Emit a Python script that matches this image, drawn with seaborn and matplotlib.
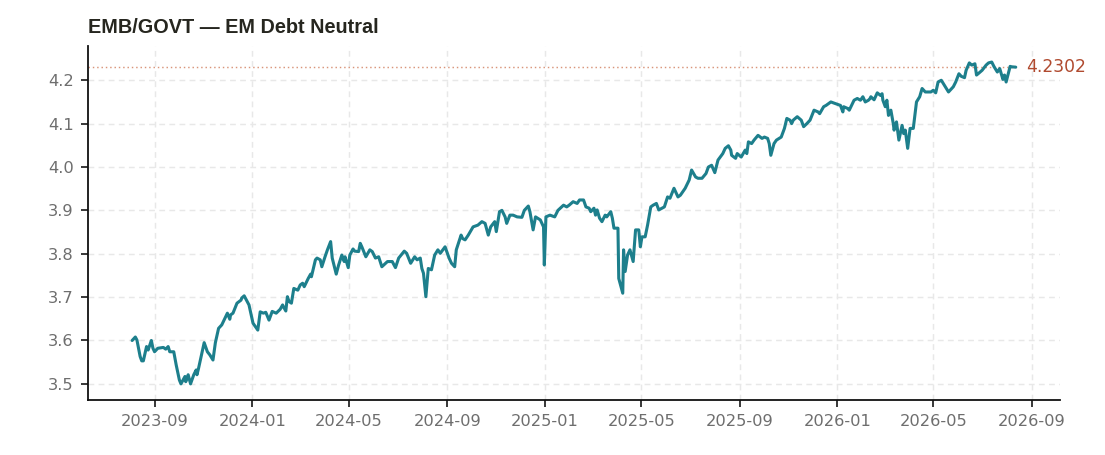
import matplotlib
matplotlib.use("Agg")
import matplotlib.pyplot as plt
import matplotlib.dates as mdates
import pandas as pd
import seaborn as sns

TITLE = "EMB/GOVT — EM Debt Neutral"

dates = [
    "2023-08-04", "2023-08-08", "2023-08-10", "2023-08-14", "2023-08-16", "2023-08-18",
    "2023-08-22", "2023-08-24", "2023-08-28", "2023-08-30", "2023-09-01", "2023-09-05",
    "2023-09-12", "2023-09-15", "2023-09-18", "2023-09-20", "2023-09-25", "2023-09-28",
    "2023-10-02", "2023-10-04", "2023-10-09", "2023-10-10", "2023-10-13", "2023-10-16",
    "2023-10-20", "2023-10-23", "2023-10-24", "2023-10-26", "2023-11-02", "2023-11-06",
    "2023-11-09", "2023-11-13", "2023-11-16", "2023-11-20", "2023-11-24", "2023-11-29",
    "2023-12-01", "2023-12-04", "2023-12-05", "2023-12-08", "2023-12-13", "2023-12-18",
    "2023-12-19", "2023-12-22", "2023-12-28", "2024-01-02", "2024-01-08", "2024-01-11",
    "2024-01-15", "2024-01-18", "2024-01-22", "2024-01-26", "2024-01-31", "2024-02-05",
    "2024-02-08", "2024-02-09", "2024-02-12", "2024-02-14", "2024-02-16", "2024-02-19",
    "2024-02-22", "2024-02-27", "2024-03-01", "2024-03-04", "2024-03-06", "2024-03-11",
    "2024-03-14", "2024-03-15", "2024-03-20", "2024-03-22", "2024-03-26", "2024-03-28",
    "2024-04-01", "2024-04-04", "2024-04-08", "2024-04-10", "2024-04-15", "2024-04-18",
    "2024-04-22", "2024-04-25", "2024-04-26", "2024-04-30", "2024-05-02", "2024-05-06",
    "2024-05-08", "2024-05-13", "2024-05-15", "2024-05-17", "2024-05-22", "2024-05-27",
    "2024-05-30", "2024-06-03", "2024-06-07", "2024-06-11", "2024-06-18", "2024-06-24",
    "2024-06-28", "2024-07-02", "2024-07-09", "2024-07-12", "2024-07-17", "2024-07-22",
    "2024-07-25", "2024-07-29", "2024-07-31", "2024-08-02", "2024-08-05", "2024-08-08",
    "2024-08-12", "2024-08-16", "2024-08-20", "2024-08-23", "2024-08-29", "2024-09-03",
    "2024-09-06", "2024-09-10", "2024-09-12", "2024-09-18", "2024-09-20", "2024-09-23",
    "2024-09-27", "2024-10-03", "2024-10-09", "2024-10-14", "2024-10-18", "2024-10-22",
    "2024-10-25", "2024-10-30", "2024-11-01", "2024-11-05", "2024-11-08", "2024-11-12",
    "2024-11-14", "2024-11-18", "2024-11-22", "2024-11-27", "2024-12-03", "2024-12-06",
    "2024-12-11", "2024-12-13", "2024-12-17", "2024-12-20", "2024-12-26", "2024-12-30",
    "2024-12-31", "2025-01-02", "2025-01-07", "2025-01-13", "2025-01-17", "2025-01-24",
    "2025-01-28", "2025-01-31", "2025-02-05", "2025-02-10", "2025-02-13", "2025-02-18",
    "2025-02-21", "2025-02-25", "2025-02-27", "2025-03-03", "2025-03-05", "2025-03-07",
    "2025-03-10", "2025-03-13", "2025-03-17", "2025-03-19", "2025-03-24", "2025-03-26",
    "2025-03-28", "2025-04-02", "2025-04-03", "2025-04-08", "2025-04-09", "2025-04-11",
    "2025-04-14", "2025-04-17", "2025-04-21", "2025-04-24", "2025-04-28", "2025-04-30",
    "2025-05-02", "2025-05-06", "2025-05-09", "2025-05-13", "2025-05-16", "2025-05-20",
    "2025-05-23", "2025-05-27", "2025-05-30", "2025-06-03", "2025-06-06", "2025-06-11",
    "2025-06-16", "2025-06-19", "2025-06-25", "2025-06-30", "2025-07-03", "2025-07-08",
    "2025-07-11", "2025-07-16", "2025-07-21", "2025-07-24", "2025-07-28", "2025-08-01",
    "2025-08-05", "2025-08-11", "2025-08-14", "2025-08-18", "2025-08-21", "2025-08-22",
    "2025-08-27", "2025-08-29", "2025-09-03", "2025-09-08", "2025-09-10", "2025-09-12",
    "2025-09-16", "2025-09-19", "2025-09-24", "2025-09-29", "2025-10-02", "2025-10-06",
    "2025-10-08", "2025-10-10", "2025-10-14", "2025-10-17", "2025-10-23", "2025-10-27",
    "2025-10-30", "2025-11-03", "2025-11-05", "2025-11-07", "2025-11-12", "2025-11-17",
    "2025-11-20", "2025-11-24", "2025-11-28", "2025-12-03", "2025-12-08", "2025-12-10",
    "2025-12-15", "2025-12-18", "2025-12-24", "2025-12-30", "2026-01-05", "2026-01-08",
    "2026-01-09", "2026-01-14", "2026-01-16", "2026-01-22", "2026-01-26", "2026-01-30",
    "2026-02-02", "2026-02-05", "2026-02-09", "2026-02-11", "2026-02-12", "2026-02-16",
    "2026-02-18", "2026-02-20", "2026-02-24", "2026-02-26", "2026-02-27", "2026-03-02",
    "2026-03-04", "2026-03-06", "2026-03-09", "2026-03-12", "2026-03-13", "2026-03-16",
    "2026-03-19", "2026-03-23", "2026-03-25", "2026-03-27", "2026-03-30", "2026-04-02",
    "2026-04-06", "2026-04-08", "2026-04-10", "2026-04-14", "2026-04-17", "2026-04-21",
    "2026-04-24", "2026-04-28", "2026-05-01", "2026-05-04", "2026-05-07", "2026-05-11",
    "2026-05-15", "2026-05-20", "2026-05-26", "2026-05-29", "2026-06-02", "2026-06-05",
    "2026-06-09", "2026-06-11", "2026-06-15", "2026-06-18", "2026-06-22", "2026-06-24",
    "2026-06-26", "2026-07-01", "2026-07-06", "2026-07-09", "2026-07-13", "2026-07-16",
    "2026-07-20", "2026-07-23", "2026-07-27", "2026-07-29", "2026-07-31", "2026-08-03",
    "2026-08-05", "2026-08-07", "2026-08-12",
]

ratio = [
    3.600, 3.608, 3.601, 3.563, 3.553, 3.553,
    3.586, 3.578, 3.600, 3.582, 3.574, 3.582,
    3.584, 3.580, 3.586, 3.574, 3.574, 3.544,
    3.509, 3.500, 3.517, 3.505, 3.521, 3.500,
    3.521, 3.532, 3.521, 3.536, 3.595, 3.574,
    3.567, 3.555, 3.595, 3.628, 3.636, 3.655,
    3.663, 3.649, 3.659, 3.663, 3.686, 3.693,
    3.698, 3.703, 3.682, 3.640, 3.624, 3.666,
    3.663, 3.665, 3.647, 3.667, 3.663, 3.672,
    3.682, 3.678, 3.668, 3.701, 3.690, 3.686,
    3.720, 3.716, 3.728, 3.732, 3.724, 3.743,
    3.753, 3.747, 3.786, 3.790, 3.786, 3.770,
    3.793, 3.809, 3.828, 3.790, 3.753, 3.774,
    3.797, 3.782, 3.793, 3.768, 3.797, 3.811,
    3.806, 3.805, 3.824, 3.816, 3.793, 3.809,
    3.805, 3.790, 3.793, 3.770, 3.782, 3.782,
    3.768, 3.790, 3.806, 3.801, 3.778, 3.793,
    3.786, 3.790, 3.766, 3.755, 3.701, 3.766,
    3.763, 3.797, 3.809, 3.801, 3.816, 3.790,
    3.778, 3.770, 3.809, 3.843, 3.835, 3.832,
    3.843, 3.862, 3.866, 3.874, 3.870, 3.843,
    3.862, 3.874, 3.851, 3.897, 3.900, 3.885,
    3.870, 3.889, 3.889, 3.885, 3.884, 3.900,
    3.910, 3.897, 3.855, 3.885, 3.878, 3.862,
    3.774, 3.885, 3.889, 3.885, 3.900, 3.912,
    3.908, 3.912, 3.920, 3.916, 3.924, 3.924,
    3.908, 3.905, 3.897, 3.905, 3.889, 3.901,
    3.882, 3.874, 3.889, 3.885, 3.897, 3.882,
    3.859, 3.859, 3.743, 3.709, 3.809, 3.759,
    3.797, 3.809, 3.782, 3.855, 3.855, 3.816,
    3.839, 3.839, 3.866, 3.908, 3.912, 3.916,
    3.901, 3.905, 3.908, 3.931, 3.928, 3.951,
    3.931, 3.935, 3.951, 3.970, 3.993, 3.977,
    3.974, 3.974, 3.985, 4.000, 4.004, 3.987,
    4.016, 4.031, 4.043, 4.049, 4.039, 4.027,
    4.020, 4.031, 4.023, 4.039, 4.031, 4.058,
    4.054, 4.062, 4.073, 4.066, 4.069, 4.066,
    4.054, 4.027, 4.054, 4.062, 4.069, 4.089,
    4.112, 4.108, 4.100, 4.108, 4.116, 4.108,
    4.093, 4.100, 4.108, 4.131, 4.127, 4.123,
    4.139, 4.142, 4.150, 4.146, 4.142, 4.127,
    4.139, 4.135, 4.131, 4.154, 4.158, 4.154,
    4.162, 4.150, 4.154, 4.158, 4.162, 4.155,
    4.163, 4.171, 4.165, 4.169, 4.154, 4.139,
    4.154, 4.119, 4.131, 4.100, 4.085, 4.104,
    4.062, 4.096, 4.077, 4.085, 4.043, 4.089,
    4.089, 4.119, 4.150, 4.162, 4.181, 4.173,
    4.173, 4.173, 4.177, 4.171, 4.196, 4.200,
    4.188, 4.173, 4.185, 4.196, 4.215, 4.209,
    4.206, 4.223, 4.240, 4.235, 4.238, 4.212,
    4.215, 4.223, 4.235, 4.240, 4.242, 4.231,
    4.219, 4.227, 4.202, 4.212, 4.196, 4.217,
    4.232, 4.231, 4.2302,
]

LINE_COLOR = "#1d7f8c"
ACCENT = "#b04a2f"
REF_LINE = "#d99479"

df = pd.DataFrame({"date": pd.to_datetime(dates), "ratio": ratio})

sns.set_theme(style="white")
plt.rcParams["font.family"] = ["DejaVu Sans"]

fig = plt.figure(figsize=(8.5, 3.5), dpi=130)
ax = fig.add_axes([0.0796, 0.121, 0.8796, 0.778])

sns.lineplot(data=df, x="date", y="ratio", ax=ax, color=LINE_COLOR,
             linewidth=1.7, estimator=None)

ax.margins(x=0.05, y=0.05)
ax.autoscale_view()
x0, x1 = ax.get_xlim()
last_date = df["date"].iloc[-1]
last_num = mdates.date2num(last_date)
last_val = df["ratio"].iloc[-1]
ax.hlines(last_val, x0, last_num, linestyles=[(0, (1, 2))],
          colors=REF_LINE, linewidth=0.8, zorder=1)
ax.set_xlim(x0, x1)
ax.annotate(f"{last_val:.4f}", xy=(last_num, last_val), xytext=(6, 0),
            textcoords="offset points", ha="left", va="center",
            color=ACCENT, fontsize=9.5, annotation_clip=False)

ax.xaxis.set_major_locator(mdates.MonthLocator(bymonth=[1, 5, 9]))
ax.xaxis.set_major_formatter(mdates.DateFormatter("%Y-%m"))
ax.set_yticks([3.5, 3.6, 3.7, 3.8, 3.9, 4.0, 4.1, 4.2])

ax.grid(True, color="#e8e8e8", linestyle=(0, (4, 3)), linewidth=0.8)
ax.set_axisbelow(True)
for s in ["top", "right"]:
    ax.spines[s].set_visible(False)
for s in ["left", "bottom"]:
    ax.spines[s].set_color("#111111")
    ax.spines[s].set_linewidth(1.0)
ax.tick_params(axis="both", which="major", length=4, width=0.9, color="#111111",
               labelcolor="#6e6e6e", labelsize=9, bottom=True, left=True, pad=4)
ax.set_xlabel("")
ax.set_ylabel("")

ax.set_title(TITLE, loc="left", fontsize=11, fontweight="bold",
             family=["Liberation Sans", "DejaVu Sans"], color="#26261f", pad=7)

fig.savefig("out.png", dpi=130, facecolor="white")
